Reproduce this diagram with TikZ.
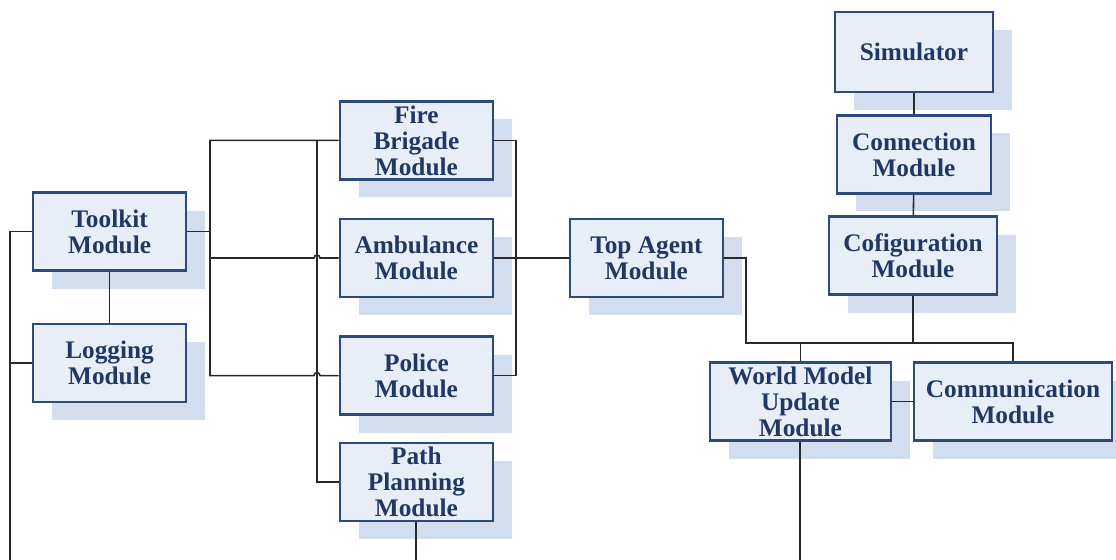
\documentclass[tikz,border=0pt]{standalone}
\usepackage{fontspec}
\setmainfont{Liberation Serif}
\usetikzlibrary{shadows}
\definecolor{boxfill}{HTML}{E8EEF8}
\definecolor{boxline}{HTML}{2E4A7D}
\definecolor{boxtext}{HTML}{1F3864}
\definecolor{boxshade}{HTML}{D2DDEE}
\definecolor{wire}{HTML}{282828}
\begin{document}
\begin{tikzpicture}[module/.style={draw=boxline,line width=1.6pt,fill=boxfill,text=boxtext,minimum width=3.83cm,minimum height=1.95cm,align=center,inner sep=1pt,font=\fontsize{18}{18.5}\selectfont\bfseries,drop shadow={shadow xshift=0.475cm,shadow yshift=-0.45cm,opacity=1,fill=boxshade}}, link/.style={draw=wire,line width=1.1pt}]
  \useasboundingbox (0,0) rectangle (27.9,14);
  % modules
  \node[module,minimum width=3.95cm,minimum height=2cm] (sim) at (22.85,12.7) {Simulator};
  \node[module,minimum width=3.85cm] (conn) at (22.85,10.14) {Connection\\Module};
  \node[module,minimum width=4.2cm] (config) at (22.825,7.61) {Cofiguration\\Module};
  \node[module] (fire) at (10.41,10.49) {Fire\\Brigade\\Module};
  \node[module] (amb) at (10.41,7.55) {Ambulance\\Module};
  \node[module] (police) at (10.41,4.61) {Police\\Module};
  \node[module] (path) at (10.41,1.95) {Path\\Planning\\Module};
  \node[module] (toolkit) at (2.74,8.21) {Toolkit\\Module};
  \node[module] (logging) at (2.74,4.925) {Logging\\Module};
  \node[module] (top) at (16.16,7.55) {Top Agent\\Module};
  \node[module,minimum width=4.53cm] (world) at (20.01,3.96) {World Model\\Update\\Module};
  \node[module,minimum width=4.95cm] (comm) at (25.325,3.96) {Communication\\Module};
  % bus lines and free ends
  \coordinate (lbus) at (5.25,0);
  \coordinate (mbus) at (7.925,0);
  \coordinate (rbus) at (12.9,0);
  \coordinate (tbus) at (18.65,5.425);
  \coordinate (edge) at (0.25,0);
  % left side
  \draw[link] (edge) |- (toolkit.west);
  \draw[link] (edge |- logging.west) -- (logging.west);
  \draw[link] (toolkit) -- (logging);
  \draw[link] (toolkit.east) -- (lbus |- toolkit.east);
  \draw[link] (fire.west) -| (lbus |- police.west) -- ([xshift=-0.075cm]mbus |- police.west) arc[start angle=180,end angle=0,radius=0.075cm] -- (police.west);
  \draw[link] (lbus |- amb.west) -- ([xshift=-0.075cm]mbus |- amb.west) arc[start angle=180,end angle=0,radius=0.075cm] -- (amb.west);
  \draw[link] (mbus |- fire.west) |- (path.west);
  \draw[link,line width=1.4pt] (path.south) -- (path.south |- edge);
  % right side of the agents
  \draw[link] (fire.east) -| (rbus |- police.east) -- (police.east);
  \draw[link] (amb.east) -- (top.west);
  \draw[link] (top.east) -| (tbus) -| (comm.north);
  \draw[link] (world.north) -- (world.north |- tbus);
  \draw[link] (config.south) -- (config.south |- tbus);
  \draw[link] (world) -- (comm);
  \draw[link,line width=1.4pt] (world.south) -- (world.south |- edge);
  % simulator chain
  \draw[link] (sim) -- (conn);
  \draw[link] (conn) -- (config);
\end{tikzpicture}
\end{document}
